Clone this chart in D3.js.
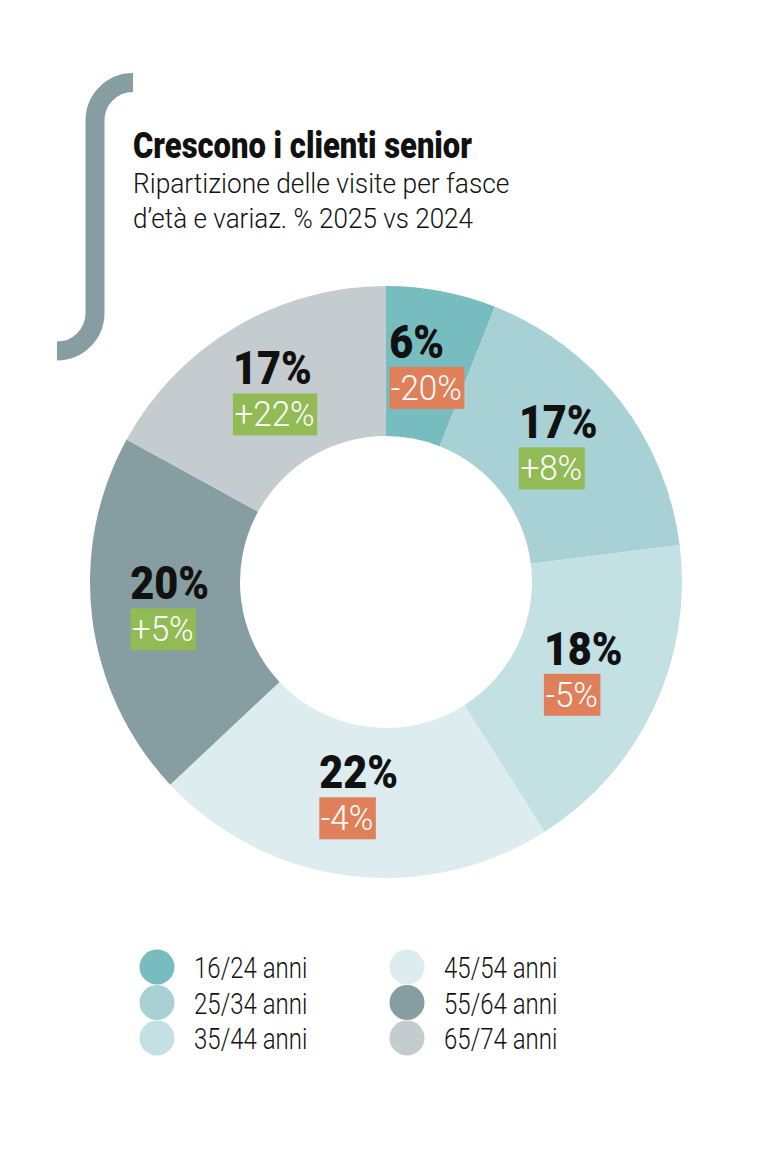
<!DOCTYPE html>
<html>
<head>
<meta charset="utf-8">
<script src="https://cdn.jsdelivr.net/npm/d3@7"></script>
<style>
  body { margin: 0; background: #fff; }
  svg { display: block; font-family: Roboto, "DejaVu Sans Condensed", sans-serif; }
</style>
</head>
<body>
<svg id="chart" width="782" height="1170"></svg>
<script>
// data
var categories = ["16/24 anni", "25/34 anni", "35/44 anni", "45/54 anni", "55/64 anni", "65/74 anni"];
var shares = [6, 17, 18, 22, 20, 17];
var changes = [-20, 8, -5, -4, 5, 22];
var colors = ["#77bdc0", "#a7d1d4", "#c3e0e2", "#ddedef", "#869ea1", "#c4cccf"];

var svg = d3.select("#chart");

// squeeze a text horizontally, the original face is a condensed one
function condense(sel, f) {
  sel.each(function() {
    var len = this.getComputedTextLength();
    d3.select(this)
      .attr("textLength", len * f)
      .attr("lengthAdjust", "spacingAndGlyphs");
  });
}

// bracket
svg.append("path")
  .attr("d", "M133,82.5 A38,38 0 0 0 95,120.5 L95,313 A38,38 0 0 1 57,351")
  .attr("fill", "none")
  .attr("stroke", "#869ea1")
  .attr("stroke-width", 19);

// titles
svg.append("text")
  .attr("x", 133).attr("y", 158)
  .attr("font-size", 36).attr("font-weight", 900)
  .attr("fill", "#111")
  .text("Crescono i clienti senior")
  .call(condense, 0.86);

svg.append("text")
  .attr("x", 133).attr("y", 193)
  .attr("font-size", 28).attr("font-weight", 300).attr("fill", "#111")
  .text("Ripartizione delle visite per fasce")
  .call(condense, 0.94);

svg.append("text")
  .attr("x", 133).attr("y", 228)
  .attr("font-size", 28).attr("font-weight", 300).attr("fill", "#111")
  .text("d\u2019età e variaz. % 2025 vs 2024")
  .call(condense, 0.93);

// donut
var cx = 386, cy = 582;
var pie = d3.pie().sort(null).value(function(d) { return d; });
var arc = d3.arc().innerRadius(146).outerRadius(296);
var labelArc = d3.arc().innerRadius(140).outerRadius(296);

var arcs = pie(shares);

var g = svg.append("g")
  .attr("transform", "translate(" + cx + "," + cy + ")");

g.selectAll("path.slice")
  .data(arcs)
  .enter()
  .append("path")
  .attr("class", "slice")
  .attr("d", arc)
  .attr("fill", function(d, i) { return colors[i]; });

var labels = g.selectAll("g.label")
  .data(arcs)
  .enter()
  .append("g")
  .attr("class", "label");

labels.each(function(d, i) {
  var lg = d3.select(this);
  var num = lg.append("text")
    .attr("x", 0).attr("y", 0)
    .attr("font-size", 46).attr("font-weight", 900)
    .attr("fill", "#111")
    .text(shares[i] + "%")
    .call(condense, 0.9);
  var ch = changes[i];
  var badgeText = (ch > 0 ? "+" : "-") + Math.abs(ch) + "%";
  var badge = lg.append("rect")
    .attr("x", 0).attr("y", 9)
    .attr("height", 42)
    .attr("fill", ch > 0 ? "#92bb55" : "#e0805a");
  var bt = lg.append("text")
    .attr("x", 1.5).attr("y", 42)
    .attr("font-size", 35).attr("font-weight", 300)
    .attr("fill", "#fff")
    .text(badgeText)
    .call(condense, 0.95);
  var bw = +bt.attr("textLength") + 4;
  badge.attr("width", bw);
  var w = Math.max(+num.attr("textLength"), bw);
  var c = labelArc.centroid(d);
  // group spans from cap top (-32) to badge bottom (51), baseline sits 10 above centre
  lg.attr("transform", "translate(" + (c[0] - w / 2) + "," + (c[1] - 10) + ")");
});

// legend
var legend = svg.append("g");
var items = legend.selectAll("g.item")
  .data(categories)
  .enter()
  .append("g")
  .attr("class", "item")
  .attr("transform", function(d, i) {
    var col = Math.floor(i / 3), row = i % 3;
    return "translate(" + (157 + col * 250) + "," + (967 + row * 35.5) + ")";
  });

items.append("circle")
  .attr("r", 17.5)
  .attr("fill", function(d, i) { return colors[i]; });

items.append("text")
  .attr("x", 37).attr("y", 11)
  .attr("font-size", 30).attr("font-weight", 300)
  .attr("fill", "#111")
  .text(function(d) { return d; })
  .call(condense, 0.8);
</script>
</body>
</html>
